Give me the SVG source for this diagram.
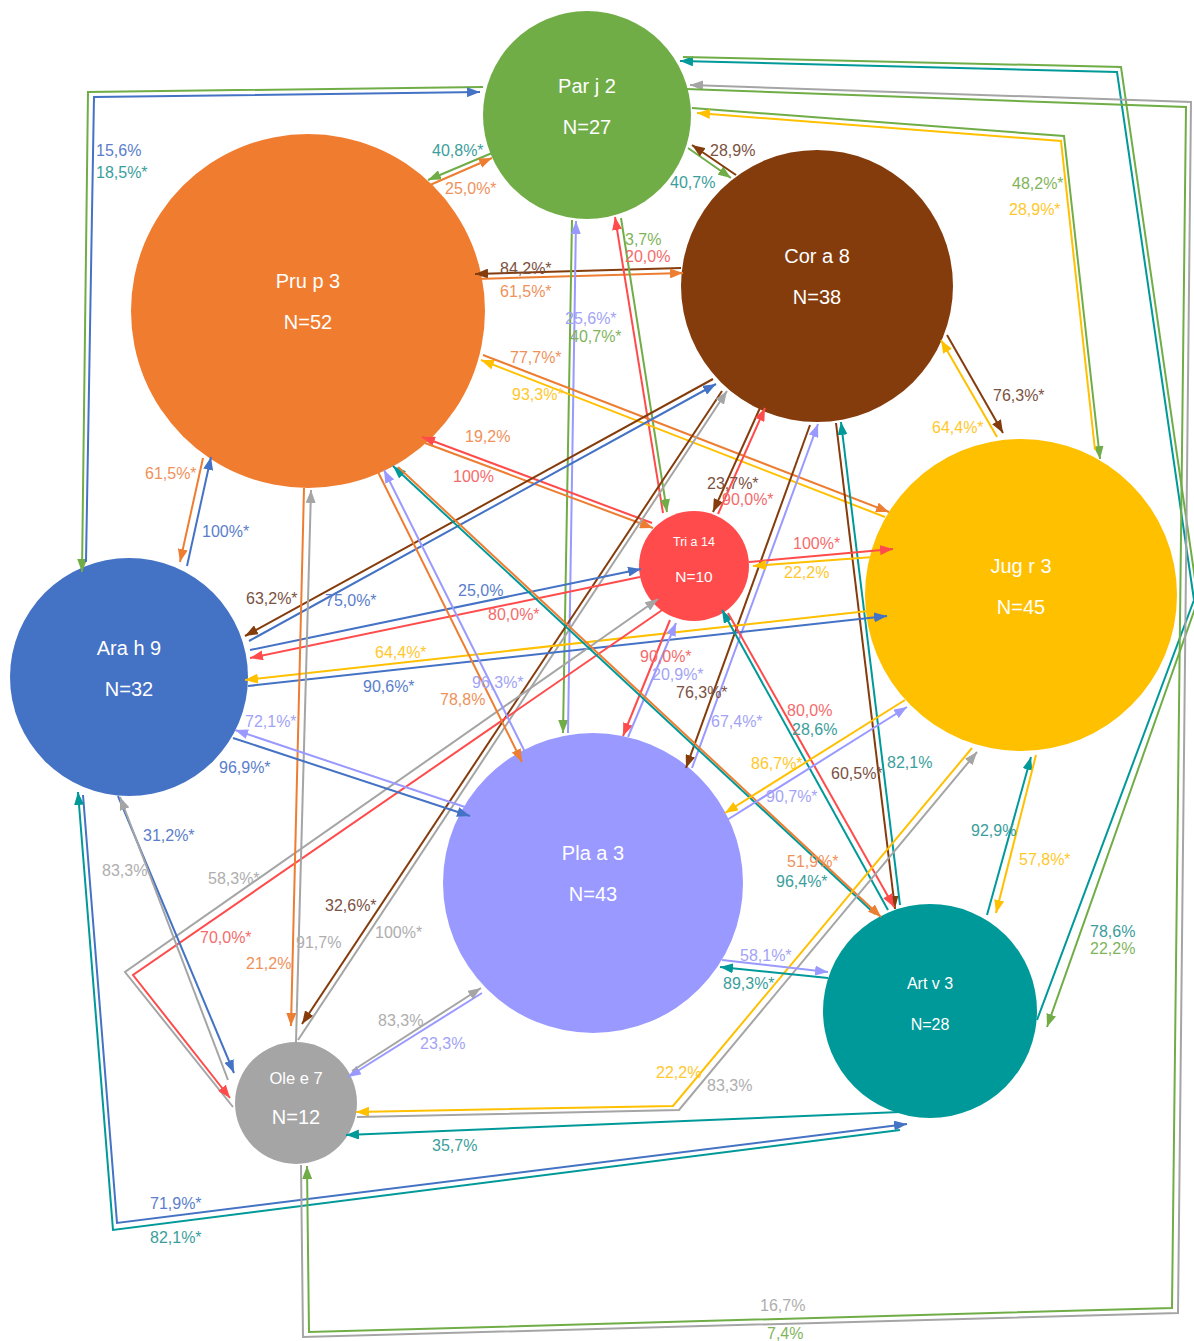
<svg xmlns="http://www.w3.org/2000/svg" width="1194" height="1341" viewBox="0 0 1194 1341">
<style>
.c{fill:none;stroke-width:2}
.g{stroke:#70AD47}.o{stroke:#ED7D31}.b{stroke:#843C0C}.y{stroke:#FFC000}.r{stroke:#FF4B4B}.bl{stroke:#4472C4}.l{stroke:#9999FF}.t{stroke:#009999}.gr{stroke:#A5A5A5}
.g{marker-end:url(#mg)}.o{marker-end:url(#mo)}.b{marker-end:url(#mb)}.y{marker-end:url(#my)}.r{marker-end:url(#mr)}.bl{marker-end:url(#mbl)}.l{marker-end:url(#ml)}.t{marker-end:url(#mt)}.gr{marker-end:url(#mgr)}
.nt{font-family:"Liberation Sans",Arial,sans-serif;fill:#fff;text-anchor:middle}
.lb{font-family:"Liberation Sans",Arial,sans-serif;font-size:16px}
.lg{fill:#7FB45B}.lo{fill:#F0915A}.lbr{fill:#7B5242}.ly{fill:#FFC72C}.lr{fill:#F56B6B}.lbl{fill:#5A7ECB}.ll{fill:#A3A3F5}.lt{fill:#3A9E9C}.lgr{fill:#AEAEAE}
</style>
<defs>
<marker id="mg" markerUnits="userSpaceOnUse" markerWidth="14" markerHeight="10" refX="13" refY="5" orient="auto"><path d="M0,0L13,5L0,10z" fill="#70AD47"/></marker>
<marker id="mo" markerUnits="userSpaceOnUse" markerWidth="14" markerHeight="10" refX="13" refY="5" orient="auto"><path d="M0,0L13,5L0,10z" fill="#ED7D31"/></marker>
<marker id="mb" markerUnits="userSpaceOnUse" markerWidth="14" markerHeight="10" refX="13" refY="5" orient="auto"><path d="M0,0L13,5L0,10z" fill="#843C0C"/></marker>
<marker id="my" markerUnits="userSpaceOnUse" markerWidth="14" markerHeight="10" refX="13" refY="5" orient="auto"><path d="M0,0L13,5L0,10z" fill="#FFC000"/></marker>
<marker id="mr" markerUnits="userSpaceOnUse" markerWidth="14" markerHeight="10" refX="13" refY="5" orient="auto"><path d="M0,0L13,5L0,10z" fill="#FF4B4B"/></marker>
<marker id="mbl" markerUnits="userSpaceOnUse" markerWidth="14" markerHeight="10" refX="13" refY="5" orient="auto"><path d="M0,0L13,5L0,10z" fill="#4472C4"/></marker>
<marker id="ml" markerUnits="userSpaceOnUse" markerWidth="14" markerHeight="10" refX="13" refY="5" orient="auto"><path d="M0,0L13,5L0,10z" fill="#9999FF"/></marker>
<marker id="mt" markerUnits="userSpaceOnUse" markerWidth="14" markerHeight="10" refX="13" refY="5" orient="auto"><path d="M0,0L13,5L0,10z" fill="#009999"/></marker>
<marker id="mgr" markerUnits="userSpaceOnUse" markerWidth="14" markerHeight="10" refX="13" refY="5" orient="auto"><path d="M0,0L13,5L0,10z" fill="#A5A5A5"/></marker>
</defs>
<rect width="1194" height="1341" fill="#fff"/>
<g id="nodes">
<g id="parj"><circle cx="587" cy="115" r="104" fill="#70AD47"/><text class="nt" x="587" y="93" font-size="20">Par j 2</text><text class="nt" x="587" y="134" font-size="20">N=27</text></g>
<g id="prup"><circle cx="308" cy="311" r="177" fill="#F07C30"/><text class="nt" x="308" y="288" font-size="20">Pru p 3</text><text class="nt" x="308" y="329" font-size="20">N=52</text></g>
<g id="cora"><circle cx="817" cy="286" r="136" fill="#843C0C"/><text class="nt" x="817" y="263" font-size="20">Cor a 8</text><text class="nt" x="817" y="304" font-size="20">N=38</text></g>
<g id="jugr"><circle cx="1021" cy="595" r="156" fill="#FFC000"/><text class="nt" x="1021" y="573" font-size="20">Jug r 3</text><text class="nt" x="1021" y="614" font-size="20">N=45</text></g>
<g id="tria"><circle cx="694" cy="566" r="55" fill="#FF4B4B"/><text class="nt" x="694" y="546" font-size="12.5">Tri a 14</text><text class="nt" x="694" y="582" font-size="15.5">N=10</text></g>
<g id="arah"><circle cx="129" cy="677" r="119" fill="#4472C4"/><text class="nt" x="129" y="655" font-size="20">Ara h 9</text><text class="nt" x="129" y="696" font-size="20">N=32</text></g>
<g id="plaa"><circle cx="593" cy="883" r="150" fill="#9999FF"/><text class="nt" x="593" y="860" font-size="20">Pla a 3</text><text class="nt" x="593" y="901" font-size="20">N=43</text></g>
<g id="artv"><circle cx="930" cy="1011" r="107" fill="#009999"/><text class="nt" x="930" y="989" font-size="16">Art v 3</text><text class="nt" x="930" y="1030" font-size="16">N=28</text></g>
<g id="olee"><circle cx="296" cy="1103" r="61" fill="#A5A5A5"/><text class="nt" x="296" y="1084" font-size="16.5">Ole e 7</text><text class="nt" x="296" y="1124" font-size="20">N=12</text></g>
</g>
<g id="connectors">
<line class="c g" x1="492" y1="153" x2="428" y2="180"/>
<line class="c o" x1="430" y1="185" x2="492" y2="158"/>
<line class="c g" x1="688" y1="148" x2="731" y2="178"/>
<line class="c b" x1="736" y1="175" x2="692" y2="145"/>
<line class="c b" x1="681" y1="268" x2="475" y2="274"/>
<line class="c o" x1="477" y1="279" x2="683" y2="273"/>
<line class="c g" x1="572" y1="220" x2="563" y2="733"/>
<line class="c l" x1="568" y1="733" x2="576" y2="221"/>
<line class="c r" x1="663" y1="513" x2="615" y2="217"/>
<line class="c g" x1="621" y1="218" x2="667" y2="512"/>
<line class="c r" x1="652" y1="523" x2="422" y2="437"/>
<line class="c o" x1="425" y1="443" x2="653" y2="528"/>
<line class="c y" x1="885" y1="517" x2="481" y2="360"/>
<line class="c o" x1="483" y1="355" x2="889" y2="512"/>
<line class="c b" x1="713" y1="379" x2="245" y2="636"/>
<line class="c bl" x1="249" y1="641" x2="716" y2="384"/>
<line class="c b" x1="760" y1="408" x2="713" y2="512"/>
<line class="c r" x1="718" y1="514" x2="765" y2="408"/>
<line class="c b" x1="947" y1="335" x2="1003" y2="433"/>
<line class="c y" x1="997" y1="437" x2="941" y2="340"/>
<line class="c b" x1="722" y1="391" x2="302" y2="1024"/>
<line class="c gr" x1="298" y1="1040" x2="727" y2="391"/>
<line class="c b" x1="810" y1="425" x2="686" y2="768"/>
<line class="c l" x1="692" y1="768" x2="818" y2="424"/>
<line class="c b" x1="836" y1="423" x2="895" y2="909"/>
<line class="c t" x1="900" y1="905" x2="841" y2="422"/>
<line class="c r" x1="749" y1="562" x2="893" y2="549"/>
<line class="c y" x1="887" y1="556" x2="753" y2="566"/>
<line class="c bl" x1="250" y1="650" x2="641" y2="569"/>
<line class="c r" x1="640" y1="577" x2="250" y2="658"/>
<line class="c y" x1="868" y1="611" x2="245" y2="680"/>
<line class="c bl" x1="248" y1="686" x2="887" y2="616"/>
<line class="c r" x1="670" y1="620" x2="623" y2="736"/>
<line class="c l" x1="628" y1="737" x2="676" y2="623"/>
<line class="c t" x1="888" y1="910" x2="722" y2="610"/>
<line class="c r" x1="728" y1="613" x2="894" y2="907"/>
<polyline class="c gr" points="233,1107 125,972 658,599"/>
<polyline class="c r" points="668,606 133,975 230,1098"/>
<line class="c o" x1="378" y1="472" x2="522" y2="762"/>
<line class="c l" x1="525" y1="752" x2="384" y2="470"/>
<line class="c t" x1="875" y1="914" x2="393" y2="466"/>
<line class="c o" x1="398" y1="467" x2="881" y2="917"/>
<line class="c o" x1="203" y1="458" x2="180" y2="562"/>
<line class="c bl" x1="187" y1="566" x2="211" y2="457"/>
<line class="c o" x1="304" y1="488" x2="291" y2="1026"/>
<line class="c gr" x1="296" y1="1042" x2="311" y2="490"/>
<line class="c bl" x1="233" y1="738" x2="470" y2="816"/>
<line class="c l" x1="468" y1="808" x2="235" y2="730"/>
<line class="c bl" x1="118" y1="796" x2="234" y2="1073"/>
<line class="c gr" x1="228" y1="1080" x2="120" y2="797"/>
<polyline class="c bl" points="83,795 117,1223 907,1124"/>
<polyline class="c t" points="900,1130 113,1230 78,792"/>
<polyline class="c g" points="483,87 88,92 82,572"/>
<polyline class="c bl" points="86,562 94,97 480,92"/>
<polyline class="c t" points="1037,1020 1194,600 1117,72 680,61"/>
<polyline class="c g" points="683,57 1121,67 1198,600 1047,1027"/>
<polyline class="c gr" points="301,1165 303,1337 1178,1313 1191,102 690,85"/>
<polyline class="c g" points="686,89 1186,107 1172,1308 309,1332 307,1166"/>
<polyline class="c g" points="692,108 1064,136 1100,459"/>
<polyline class="c y" points="1095,450 1061,141 697,113"/>
<line class="c y" x1="905" y1="700" x2="725" y2="813"/>
<line class="c l" x1="727" y1="820" x2="907" y2="707"/>
<line class="c t" x1="987" y1="915" x2="1031" y2="757"/>
<line class="c y" x1="1036" y1="755" x2="996" y2="913"/>
<polyline class="c y" points="972,748 673,1106 356,1112"/>
<polyline class="c gr" points="357,1117 679,1110 977,752"/>
<line class="c t" x1="900" y1="1112" x2="346" y2="1135"/>
<line class="c l" x1="482" y1="993" x2="348" y2="1077"/>
<line class="c gr" x1="352" y1="1071" x2="481" y2="988"/>
<line class="c t" x1="828" y1="978" x2="720" y2="967"/>
<line class="c l" x1="722" y1="960" x2="828" y2="972"/>
</g>
<g id="labels" class="lb">
<text class="lbl" x="96" y="156">15,6%</text>
<text class="lt" x="96" y="178">18,5%*</text>
<text class="lt" x="432" y="156">40,8%*</text>
<text class="lo" x="445" y="194">25,0%*</text>
<text class="lbr" x="710" y="156">28,9%</text>
<text class="lt" x="670" y="188">40,7%</text>
<text class="lbr" x="500" y="274">84,2%*</text>
<text class="lo" x="500" y="297">61,5%*</text>
<text class="lg" x="625" y="245">3,7%</text>
<text class="lr" x="625" y="262">20,0%</text>
<text class="ll" x="565" y="324">25,6%*</text>
<text class="lg" x="570" y="342">40,7%*</text>
<text class="lg" x="1012" y="189">48,2%*</text>
<text class="ly" x="1009" y="215">28,9%*</text>
<text class="lo" x="510" y="363">77,7%*</text>
<text class="ly" x="512" y="400">93,3%*</text>
<text class="lo" x="465" y="442">19,2%</text>
<text class="lr" x="453" y="482">100%</text>
<text class="lbr" x="993" y="401">76,3%*</text>
<text class="ly" x="932" y="433">64,4%*</text>
<text class="lbr" x="707" y="489">23,7%*</text>
<text class="lr" x="722" y="505">90,0%*</text>
<text class="lo" x="145" y="479">61,5%*</text>
<text class="lbl" x="202" y="537">100%*</text>
<text class="lr" x="793" y="549">100%*</text>
<text class="ly" x="784" y="578">22,2%</text>
<text class="lbr" x="246" y="604">63,2%*</text>
<text class="lbl" x="325" y="606">75,0%*</text>
<text class="lbl" x="458" y="596">25,0%</text>
<text class="lr" x="488" y="620">80,0%*</text>
<text class="ly" x="375" y="658">64,4%*</text>
<text class="lbl" x="363" y="692">90,6%*</text>
<text class="lr" x="640" y="662">90,0%*</text>
<text class="ll" x="652" y="680">20,9%*</text>
<text class="ll" x="472" y="688">96,3%*</text>
<text class="lo" x="440" y="705">78,8%</text>
<text class="lbr" x="676" y="698">76,3%*</text>
<text class="ll" x="711" y="727">67,4%*</text>
<text class="ll" x="245" y="727">72,1%*</text>
<text class="lr" x="787" y="716">80,0%</text>
<text class="lt" x="792" y="735">28,6%</text>
<text class="lbl" x="219" y="773">96,9%*</text>
<text class="ly" x="751" y="769">86,7%*</text>
<text class="lbr" x="831" y="779">60,5%*</text>
<text class="lt" x="887" y="768">82,1%</text>
<text class="ll" x="766" y="802">90,7%*</text>
<text class="lbl" x="143" y="841">31,2%*</text>
<text class="lt" x="971" y="836">92,9%</text>
<text class="lgr" x="102" y="876">83,3%</text>
<text class="lgr" x="208" y="884">58,3%*</text>
<text class="lo" x="787" y="867">51,9%*</text>
<text class="ly" x="1019" y="865">57,8%*</text>
<text class="lt" x="776" y="887">96,4%*</text>
<text class="lbr" x="325" y="911">32,6%*</text>
<text class="lgr" x="375" y="938">100%*</text>
<text class="lgr" x="296" y="948">91,7%</text>
<text class="lr" x="200" y="943">70,0%*</text>
<text class="lo" x="246" y="969">21,2%</text>
<text class="lt" x="1090" y="937">78,6%</text>
<text class="lg" x="1090" y="954">22,2%</text>
<text class="ll" x="740" y="961">58,1%*</text>
<text class="lt" x="723" y="989">89,3%*</text>
<text class="lgr" x="378" y="1026">83,3%</text>
<text class="ll" x="420" y="1049">23,3%</text>
<text class="ly" x="656" y="1078">22,2%</text>
<text class="lgr" x="707" y="1091">83,3%</text>
<text class="lt" x="432" y="1151">35,7%</text>
<text class="lbl" x="150" y="1209">71,9%*</text>
<text class="lt" x="150" y="1243">82,1%*</text>
<text class="lgr" x="760" y="1311">16,7%</text>
<text class="lg" x="767" y="1339">7,4%</text>
</g>
</svg>
